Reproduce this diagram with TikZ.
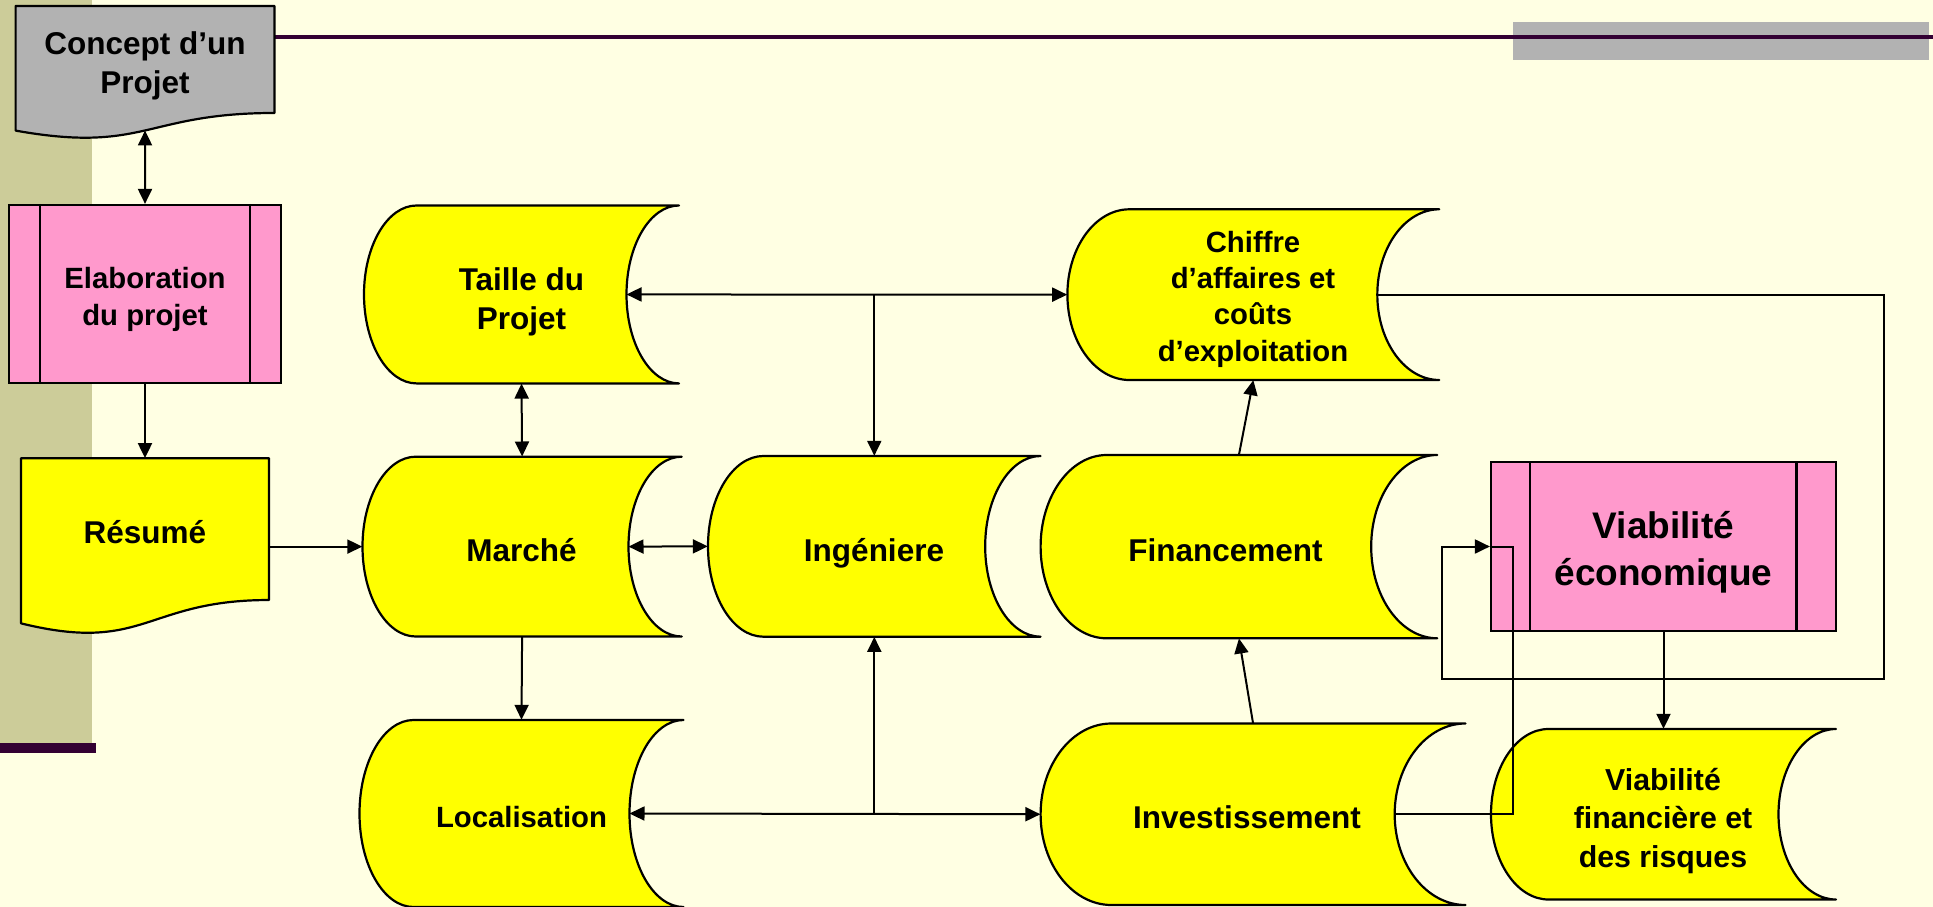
\documentclass[tikz,border=0pt]{standalone}
\usepackage{fontspec}
\setmainfont{Liberation Sans}
\usetikzlibrary{arrows.meta}
\definecolor{bgc}{HTML}{FFFFE3}
\definecolor{stripc}{HTML}{CCCC99}
\definecolor{purp}{HTML}{330033}
\definecolor{greyc}{HTML}{B2B2B2}
\definecolor{yelc}{HTML}{FFFF00}
\definecolor{pinkc}{HTML}{FF99CC}
\tikzset{
  stg/.style={draw=black, line width=2.2pt, fill=yelc, line join=round},
  docs/.style={draw=black, line width=2.2pt, line join=round},
  box/.style={draw=none, inner sep=0pt, shape=rectangle},
  procbox/.style={draw=black, line width=2.2pt, fill=pinkc, inner sep=0pt, shape=rectangle},
  one/.style={text height=22.6pt, text depth=0pt},
  ones/.style={text height=21pt, text depth=0pt},
  lbl/.style={align=center, inner sep=0pt, font=\bfseries\fontsize{31.5}{39}\selectfont},
  lbls/.style={align=center, inner sep=0pt, font=\bfseries\fontsize{29.3}{36.3}\selectfont},
  lblv/.style={align=center, inner sep=0pt, font=\bfseries\fontsize{30.3}{38.5}\selectfont},
  lblb/.style={align=center, inner sep=0pt, font=\bfseries\fontsize{37}{46.5}\selectfont},
  conn/.style={draw=black, line width=2pt},
  arr/.style={conn, -{Triangle[length=15pt,width=14pt]}},
  darr/.style={conn, {Triangle[length=15pt,width=14pt]}-{Triangle[length=15pt,width=14pt]}},
}
% storage shape: name, L, T, R, B, text x, text y, text style, text
\newcommand\stgnode[9]{%
  \pgfmathsetmacro\qL{#2}%
  \pgfmathsetmacro\qT{#3}%
  \pgfmathsetmacro\qR{#4}%
  \pgfmathsetmacro\qB{#5}%
  \pgfmathsetmacro\qD{(\qR-\qL)/6}%
  \pgfmathsetmacro\qM{(\qT+\qB)/2}%
  \pgfmathsetmacro\qH{(\qB-\qT)/2}%
  \pgfmathsetmacro\qkx{0.5523*\qD}%
  \pgfmathsetmacro\qky{0.5523*\qH}%
  \pgfmathsetmacro\qW{\qR-\qL}%
  \pgfmathsetmacro\qHH{\qB-\qT}%
  \pgfmathsetmacro\qC{(\qL+\qR)/2}%
  \draw[stg] (\qL+\qD,\qT) -- (\qR,\qT)
     .. controls (\qR-\qkx,\qT) and (\qR-\qD,\qM-\qky) .. (\qR-\qD,\qM)
     .. controls (\qR-\qD,\qM+\qky) and (\qR-\qkx,\qB) .. (\qR,\qB)
     -- (\qL+\qD,\qB)
     .. controls (\qL+\qD-\qkx,\qB) and (\qL,\qM+\qky) .. (\qL,\qM)
     .. controls (\qL,\qM-\qky) and (\qL+\qD-\qkx,\qT) .. cycle;
  \node[box, minimum width=\qW pt, minimum height=\qHH pt] (#1) at (\qC,\qM) {};
  \coordinate (#1-in) at (\qR-\qD,\qM);
  \node[#8] (#1-t) at (#6,#7) {#9};
}
% document shape: name, L, T, R, h, text x, text y, fill colour, text
\newcommand\docnode[9]{%
  \pgfmathsetmacro\qL{#2}%
  \pgfmathsetmacro\qT{#3}%
  \pgfmathsetmacro\qR{#4}%
  \pgfmathsetmacro\qh{#5}%
  \pgfmathsetmacro\qRb{\qT+0.802*\qh}%
  \pgfmathsetmacro\qLb{\qT+0.934*\qh}%
  \pgfmathsetmacro\qCc{\qT+1.1075*\qh}%
  \pgfmathsetmacro\qC{(\qL+\qR)/2}%
  \pgfmathsetmacro\qW{\qR-\qL}%
  \pgfmathsetmacro\qHH{\qRb-\qT}%
  \pgfmathsetmacro\qMy{(\qT+\qRb)/2}%
  \pgfmathsetmacro\qWy{(4*\qRb+3*\qCc+\qLb)/8}%
  \draw[docs, fill=#8] (\qL,\qT) -- (\qR,\qT) -- (\qR,\qRb)
     .. controls (\qC,\qRb) and (\qC,\qCc) .. (\qL,\qLb) -- cycle;
  \node[box, minimum width=\qW pt, minimum height=\qHH pt] (#1) at (\qC,\qMy) {};
  \coordinate (#1-w) at (\qC,\qWy);
  \node[lbl] (#1-t) at (#6,#7) {#9};
}
\begin{document}
\begin{tikzpicture}[x=1pt,y=-1pt]
\useasboundingbox (0,0) rectangle (1933,907);
% background
\fill[bgc] (0,0) rectangle (1933,907);
\fill[stripc] (0,0) rectangle (91.5,743);
\fill[purp] (0,743) rectangle (96,752.7);
\fill[greyc] (1512.8,21.7) rectangle (1928.6,60);
\draw[purp, line width=4pt] (274.5,36.7) -- (1933,36.7);

% left column
\docnode{concept}{15.6}{6}{274.5}{133.4}{145}{66}{greyc}{Concept d’un\\Projet}
\node[procbox, minimum width=272.1pt, minimum height=178pt] (elab) at (145,294) {};
\draw[line width=2.2pt] ([xshift=32.1pt]elab.north west) -- ([xshift=32.1pt]elab.south west);
\draw[line width=2.2pt] ([xshift=-32.3pt]elab.north east) -- ([xshift=-32.3pt]elab.south east);
\node[lbls] (elab-t) at (145,299.5) {Elaboration\\du projet};
\docnode{resume}{21}{458.3}{269}{176.7}{145}{532.5}{yelc}{Résumé}

% storage shapes
\stgnode{taille}{364}{205.5}{679}{383.4}{521.5}{301.5}{lbl}{Taille du\\Projet}
\stgnode{marche}{362.5}{456.7}{681.7}{636.5}{521.5}{550}{lbl,one}{Marché}
\stgnode{loc}{359.5}{720}{683.5}{907}{521.5}{817}{lbls,ones}{Localisation}
\stgnode{ing}{708}{456}{1040.6}{636.7}{874}{550}{lbl,one}{Ingéniere}
\stgnode{chiffre}{1067.4}{209.3}{1439.3}{380}{1253}{299}{lbls}{Chiffre\\d’affaires et\\coûts\\d’exploitation}
\stgnode{fin}{1040.6}{455}{1437.3}{638.3}{1225.5}{550}{lbl,one}{Financement}
\stgnode{inv}{1040.6}{723.5}{1465.5}{905}{1247}{817.5}{lbl,one}{Investissement}
\stgnode{viabfin}{1491}{729}{1836}{899.5}{1663}{821}{lblv}{Viabilité\\financière et\\des risques}

% viabilite economique
\node[procbox, minimum width=345pt, minimum height=168.4pt] (viab) at (1663.5,546.5) {};
\draw[line width=2.2pt] ([xshift=40.3pt]viab.north west) -- ([xshift=40.3pt]viab.south west);
\draw[line width=2.2pt] ([xshift=-40.6pt]viab.north east) -- ([xshift=-40.6pt]viab.south east);
\node[lblb] (viab-t) at (1663.5,552.5) {Viabilité\\économique};

% connectors
\draw[darr] (concept-w) -- (elab.north);
\draw[arr] (elab.south) -- (resume.north);
\draw[arr] (resume.east |- marche.west) -- (marche.west);
\draw[darr] (taille.south) -- (marche.north);
\draw[arr] (marche.south) -- (loc.north);
\draw[darr] (marche-in) -- (ing.west);
\draw[darr] (taille-in) -- (chiffre.west);
\coordinate (jtop) at (ing.north |- taille-in);
\draw[arr] (jtop) -- (ing.north);
\draw[darr] (loc-in) -- (inv.west);
\coordinate (jbot) at (ing.south |- loc-in);
\draw[arr] (jbot) -- (ing.south);
\draw[arr] (fin.north) -- (chiffre.south);
\draw[arr] (inv.north) -- (fin.south);
\coordinate (loopR) at (1884.2,678.7);
\coordinate (loopL) at (1442,678.7);
\draw[arr] (chiffre-in) -| (loopR) -- (loopL) |- (viab.west);
\coordinate (bendB) at (1512.8,546.5);
\draw[conn] (inv-in) -| (bendB) -- (viab.west);
\draw[arr] (viab.south) -- (viabfin.north);
\end{tikzpicture}
\end{document}
